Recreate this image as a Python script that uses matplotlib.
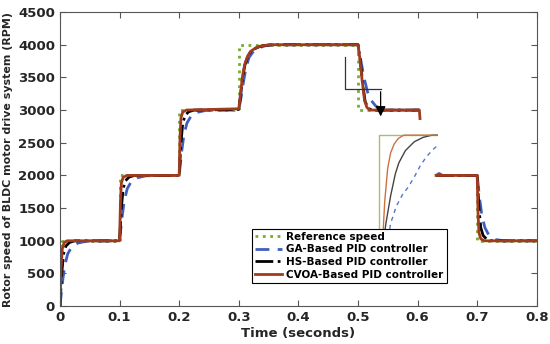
import matplotlib
matplotlib.use("Agg")
import matplotlib.pyplot as plt

# reference speed (main trace, then part after the zoom picture)
ref_t1 = [0, 0, 0.1, 0.1, 0.2, 0.2, 0.3, 0.3, 0.5, 0.5, 0.603]
ref_v1 = [0, 1000, 1000, 2000, 2000, 3000, 3000, 4000, 4000, 3000, 3000]
ref_t2 = [0.631, 0.7, 0.7, 0.8]
ref_v2 = [2000, 2000, 1000, 1000]

ga_t1 = [0, 0.004, 0.008, 0.013, 0.02, 0.03, 0.045, 0.1, 0.104, 0.108, 0.113, 0.12, 0.13, 0.145,
         0.2, 0.204, 0.208, 0.213, 0.22, 0.23, 0.245, 0.3, 0.304, 0.308, 0.312, 0.317, 0.323,
         0.333, 0.345, 0.36, 0.5, 0.504, 0.51, 0.516, 0.522, 0.53, 0.54, 0.55, 0.603]
ga_v1 = [0, 350, 620, 800, 910, 965, 995, 1000, 1350, 1620, 1800, 1910, 1965, 1995,
         2000, 2350, 2620, 2800, 2910, 2965, 2995, 3000, 3200, 3440, 3640, 3800, 3880,
         3950, 3985, 4000, 4000, 3800, 3500, 3280, 3150, 3060, 3020, 3000, 3000]
ga_t2 = [0.631, 0.636, 0.642, 0.7, 0.704, 0.708, 0.713, 0.72, 0.73, 0.745, 0.8]
ga_v2 = [2000, 2030, 2000, 2000, 1650, 1380, 1200, 1080, 1020, 1000, 1000]

hs_t1 = [0, 0.003, 0.006, 0.01, 0.016, 0.025, 0.1, 0.103, 0.106, 0.11, 0.116, 0.125,
         0.2, 0.203, 0.206, 0.21, 0.216, 0.225, 0.3, 0.303, 0.306, 0.31, 0.315, 0.32, 0.33,
         0.34, 0.355, 0.5, 0.504, 0.508, 0.512, 0.517, 0.523, 0.603]
hs_v1 = [0, 500, 800, 920, 975, 1000, 1000, 1500, 1800, 1920, 1975, 2000,
         2000, 2500, 2800, 2920, 2975, 3000, 3010, 3220, 3470, 3680, 3820, 3890, 3955,
         3985, 4000, 4000, 3750, 3400, 3130, 3030, 3000, 3000]
hs_t2 = [0.631, 0.7, 0.703, 0.706, 0.71, 0.716, 0.725, 0.8]
hs_v2 = [2000, 2000, 1500, 1200, 1080, 1025, 1000, 1000]

cvoa_t1 = [0, 0.002, 0.004, 0.007, 0.012, 0.1, 0.1015, 0.103, 0.106, 0.112, 0.2, 0.2015,
           0.203, 0.206, 0.212, 0.3, 0.303, 0.306, 0.31, 0.315, 0.32, 0.33, 0.34, 0.355,
           0.5, 0.503, 0.507, 0.511, 0.515, 0.52, 0.603, 0.604]
cvoa_v1 = [0, 600, 880, 970, 1000, 1000, 1600, 1880, 1970, 2000, 2000, 2600,
           2880, 2970, 3000, 3020, 3250, 3500, 3700, 3830, 3900, 3960, 3985, 4000,
           4000, 3800, 3450, 3150, 3040, 3000, 3000, 2870]
cvoa_t2 = [0.631, 0.7, 0.7015, 0.703, 0.706, 0.712, 0.8]
cvoa_v2 = [2000, 2000, 1400, 1120, 1030, 1000, 1000]

# zoomed view (normalised time / speed)
zoom_ref_t = [0, 0, 1]
zoom_ref_v = [0, 1, 1]
zoom_cvoa_t = [0.06, 0.1, 0.15, 0.2, 0.26, 0.33, 0.42, 0.6, 1.0]
zoom_cvoa_v = [0, 0.4, 0.7, 0.84, 0.92, 0.97, 1.0, 1.0, 1.0]
zoom_hs_t = [0.07, 0.12, 0.2, 0.28, 0.34, 0.45, 0.6, 0.75, 0.9, 1.0]
zoom_hs_v = [0, 0.2, 0.45, 0.65, 0.75, 0.86, 0.94, 0.98, 1.0, 1.0]
zoom_ga_t = [0.14, 0.2, 0.3, 0.4, 0.5, 0.6, 0.7, 0.8, 0.9, 1.0]
zoom_ga_v = [0, 0.2, 0.36, 0.46, 0.53, 0.62, 0.72, 0.8, 0.86, 0.91]

c_ref = "#77AC30"
c_ga = "#3F5FBF"
c_hs = "black"
c_cvoa = "#A23A1E"

fig = plt.figure(figsize=(5.5, 3.44), dpi=100)
ax = fig.add_axes([0.109, 0.110, 0.867, 0.855])

ax.plot(ref_t1, ref_v1, color=c_ref, ls=":", lw=2, label="Reference speed")
ax.plot(ga_t1, ga_v1, color=c_ga, ls=(0, (5, 3)), lw=2, label="GA-Based PID controller")
ax.plot(hs_t1, hs_v1, color=c_hs, ls="-.", lw=2, label="HS-Based PID controller")
ax.plot(cvoa_t1, cvoa_v1, color=c_cvoa, ls="-", lw=2, label="CVOA-Based PID controller")
ax.plot(ref_t2, ref_v2, color=c_ref, ls=":", lw=2)
ax.plot(ga_t2, ga_v2, color=c_ga, ls=(0, (5, 3)), lw=2)
ax.plot(hs_t2, hs_v2, color=c_hs, ls="-.", lw=2)
ax.plot(cvoa_t2, cvoa_v2, color=c_cvoa, ls="-", lw=2)

# zoom marker and arrow
ax.plot([0.479, 0.479, 0.538], [3813, 3323, 3323], color="#333333", lw=0.9)
ax.annotate("", xy=(0.538, 2860), xytext=(0.538, 3323),
            arrowprops=dict(arrowstyle="-|>", color="black", lw=0.9, mutation_scale=15))

ax.set_xlim(0, 0.8)
ax.set_ylim(0, 4500)
ax.set_xticks([0, 0.1, 0.2, 0.3, 0.4, 0.5, 0.6, 0.7, 0.8])
ax.set_xticklabels(["0", "0.1", "0.2", "0.3", "0.4", "0.5", "0.6", "0.7", "0.8"])
ax.set_yticks(range(0, 4501, 500))
ax.tick_params(direction="in", top=True, right=True, labelsize=9.5, labelcolor="#262626",
               color="#555555", length=4)
for lab in ax.get_xticklabels() + ax.get_yticklabels():
    lab.set_fontweight("bold")
for s in ax.spines.values():
    s.set_color("#555555")
    s.set_linewidth(0.8)
ax.set_xlabel("Time (seconds)", fontsize=9.5, fontweight="bold", color="#262626", labelpad=2)
ax.set_ylabel("Rotor speed of BLDC motor drive system (RPM)", fontsize=7.9,
              fontweight="bold", color="#262626", labelpad=4)

# inset zoom picture
ins = ax.inset_axes([0.533, 930, 0.101, 1720], transform=ax.transData)
ins.plot(zoom_ref_t, zoom_ref_v, color="#A8BF70", lw=1)
ins.plot(zoom_ga_t, zoom_ga_v, color="#5577CC", ls=(0, (3, 3)), lw=1)
ins.plot(zoom_hs_t, zoom_hs_v, color="#444444", lw=1)
ins.plot(zoom_cvoa_t, zoom_cvoa_v, color="#D07040", lw=1)
ins.set_xlim(-0.02, 1.0)
ins.set_ylim(0, 1.02)
ins.axis("off")

leg = ax.legend(loc="lower left", bbox_to_anchor=(0.392, 0.062), fancybox=False,
                edgecolor="black", framealpha=1, prop=dict(weight="bold", size=7.5),
                handlelength=2.6, borderpad=0.3, labelspacing=0.25, handletextpad=0.4)
leg.get_frame().set_linewidth(0.8)
leg.set_zorder(5)

fig.savefig("out.png", dpi=100)
